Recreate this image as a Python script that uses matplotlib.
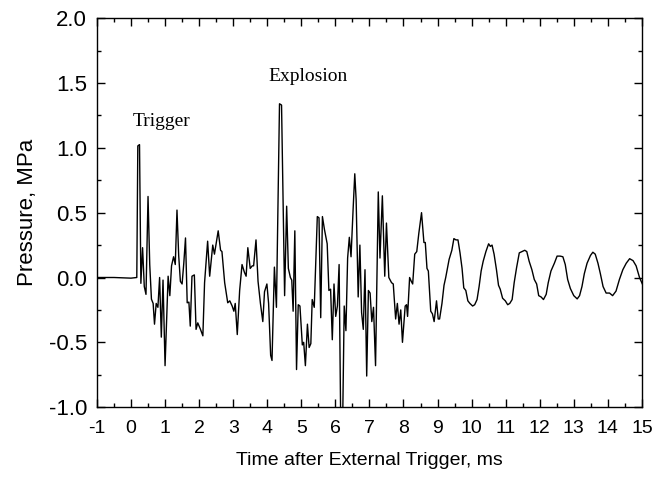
import numpy as np
import matplotlib
matplotlib.use("Agg")
import matplotlib.pyplot as plt
from matplotlib.ticker import MultipleLocator, FormatStrFormatter

plt.rcParams['font.family'] = 'Liberation Sans'
plt.rcParams['axes.unicode_minus'] = False

# pressure trace (time in ms, pressure in MPa)
tiempo = [-1.0, -0.5, 0.0, 0.17, 0.2, 0.25, 0.29, 0.34, 0.39, 0.44, 0.5, 0.55,
          0.6, 0.65, 0.69, 0.74, 0.79, 0.84, 0.89, 0.94, 1.0, 1.09, 1.14, 1.19,
          1.25, 1.3, 1.35, 1.4, 1.45, 1.5, 1.55, 1.6, 1.65, 1.7, 1.74, 1.79,
          1.86, 1.91, 1.96, 2.04, 2.11, 2.16, 2.25, 2.31, 2.4, 2.45, 2.56, 2.63,
          2.67, 2.75, 2.84, 2.9, 2.97, 3.02, 3.06, 3.12, 3.19, 3.26, 3.33, 3.38,
          3.43, 3.5, 3.56, 3.6, 3.67, 3.73, 3.8, 3.87, 3.92, 3.99, 4.04, 4.1,
          4.14, 4.21, 4.27, 4.36, 4.42, 4.51, 4.57, 4.62, 4.68, 4.72, 4.76, 4.81,
          4.86, 4.91, 4.96, 5.03, 5.07, 5.12, 5.18, 5.23, 5.28, 5.32, 5.38, 5.47,
          5.52, 5.57, 5.62, 5.68, 5.76, 5.81, 5.86, 5.91, 5.96, 6.01, 6.06, 6.11,
          6.16, 6.21, 6.26, 6.31, 6.36, 6.41, 6.46, 6.52, 6.57, 6.61, 6.67, 6.72,
          6.77, 6.82, 6.87, 6.92, 6.97, 7.02, 7.07, 7.12, 7.18, 7.26, 7.31, 7.38,
          7.45, 7.5, 7.57, 7.65, 7.7, 7.77, 7.82, 7.87, 7.92, 7.97, 8.05, 8.09,
          8.12, 8.18, 8.23, 8.27, 8.33, 8.39, 8.45, 8.53, 8.6, 8.64, 8.69, 8.73,
          8.8, 8.85, 8.9, 8.97, 9.02, 9.06, 9.13, 9.19, 9.24, 9.34, 9.42, 9.48,
          9.54, 9.6, 9.66, 9.72, 9.77, 9.83, 9.89, 9.95, 10.03, 10.09, 10.16, 10.22,
          10.28, 10.34, 10.42, 10.5, 10.55, 10.6, 10.66, 10.73, 10.79, 10.84, 10.91, 10.99,
          11.06, 11.12, 11.19, 11.25, 11.32, 11.4, 11.48, 11.56, 11.62, 11.69, 11.77, 11.84,
          11.91, 11.97, 12.04, 12.11, 12.19, 12.25, 12.33, 12.43, 12.51, 12.6, 12.68, 12.75,
          12.82, 12.9, 13.0, 13.1, 13.17, 13.24, 13.31, 13.39, 13.49, 13.56, 13.63, 13.71,
          13.78, 13.86, 13.95, 14.05, 14.14, 14.24, 14.34, 14.44, 14.54, 14.64, 14.74, 14.83,
          14.93, 15.03]
presion = [0.0, 0.0, -0.005, 0.0, 1.015, 1.025, -0.045, 0.23, -0.07, -0.13, 0.625, 0.1,
           -0.167, -0.2, -0.36, -0.2, -0.23, 0.0, -0.46, -0.02, -0.68, 0.01, -0.14, 0.09,
           0.16, 0.1, 0.52, 0.17, -0.03, -0.05, 0.11, 0.305, -0.195, -0.19, -0.375, 0.01,
           0.02, -0.4, -0.35, -0.4, -0.45, -0.04, 0.28, 0.01, 0.25, 0.18, 0.36, 0.21,
           0.2, -0.04, -0.195, -0.18, -0.22, -0.26, -0.2, -0.44, -0.1, 0.1, 0.04, 0.01,
           0.23, 0.07, 0.09, 0.09, 0.29, -0.03, -0.2, -0.34, -0.11, -0.05, -0.2, -0.6,
           -0.64, 0.08, -0.23, 1.34, 1.33, -0.14, 0.55, 0.07, 0.0, -0.02, -0.26, 0.36,
           -0.71, -0.21, -0.22, -0.52, -0.5, -0.68, -0.36, -0.54, -0.51, -0.17, -0.23, 0.47,
           0.46, -0.31, 0.47, 0.37, 0.26, -0.1, -0.09, -0.48, -0.05, -0.3, -0.22, 0.1,
           -1.2, -1.2, -0.22, -0.41, 0.15, 0.31, 0.16, 0.52, 0.8, 0.6, -0.15, 0.25,
           -0.27, -0.4, 0.06, -0.76, -0.1, -0.12, -0.34, -0.23, -0.68, 0.66, 0.15, 0.63,
           0.01, 0.42, 0.0, -0.04, -0.05, -0.32, -0.2, -0.36, -0.25, -0.5, -0.22, -0.21,
           -0.3, 0.0, -0.03, -0.05, 0.18, 0.2, 0.34, 0.5, 0.27, 0.27, 0.07, 0.05,
           -0.26, -0.28, -0.34, -0.18, -0.32, -0.32, -0.2, -0.06, 0.0, 0.14, 0.21, 0.3,
           0.29, 0.29, 0.19, 0.07, -0.08, -0.1, -0.18, -0.2, -0.22, -0.21, -0.17, -0.07,
           0.05, 0.125, 0.2, 0.26, 0.24, 0.25, 0.18, 0.06, -0.06, -0.09, -0.16, -0.18,
           -0.21, -0.2, -0.17, -0.04, 0.075, 0.19, 0.2, 0.21, 0.2, 0.125, 0.06, -0.015,
           -0.05, -0.14, -0.15, -0.17, -0.13, -0.04, 0.05, 0.11, 0.165, 0.165, 0.16, 0.1,
           -0.015, -0.085, -0.14, -0.165, -0.14, -0.07, 0.03, 0.11, 0.17, 0.195, 0.18, 0.11,
           0.03, -0.07, -0.12, -0.12, -0.14, -0.105, -0.015, 0.06, 0.11, 0.145, 0.13, 0.09,
           0.0, -0.06]

fig = plt.figure(figsize=(6.55, 4.79), dpi=100)
ax = fig.add_axes([0.148, 0.150, 0.832, 0.812])

ax.plot(tiempo, presion, color='black', linewidth=1.0)

ax.set_xlim(-1, 15)
ax.set_ylim(-1.0, 2.0)
ax.xaxis.set_major_locator(MultipleLocator(1))
ax.xaxis.set_minor_locator(MultipleLocator(0.5))
ax.yaxis.set_major_locator(MultipleLocator(0.5))
ax.yaxis.set_minor_locator(MultipleLocator(0.25))
ax.yaxis.set_major_formatter(FormatStrFormatter('%.1f'))
ax.tick_params(which='both', direction='in', top=True, right=True, width=1)
ax.tick_params(which='major', length=6)
ax.tick_params(which='minor', length=3)
ax.tick_params(axis='x', which='major', labelsize=14, pad=9)
ax.tick_params(axis='y', which='major', labelsize=16, pad=7)
for s in ax.spines.values():
    s.set_linewidth(1)

ax.set_xlabel('Time after External Trigger, ms', fontsize=14, labelpad=11)
ax.set_ylabel('Pressure, MPa', fontsize=16, labelpad=8)

ax.text(0.9, 1.2, 'Trigger', family='Liberation Serif', fontsize=14, ha='center', va='center')
ax.text(5.2, 1.55, 'Explosion', family='Liberation Serif', fontsize=14, ha='center', va='center')

fig.savefig('out.png', dpi=100)
